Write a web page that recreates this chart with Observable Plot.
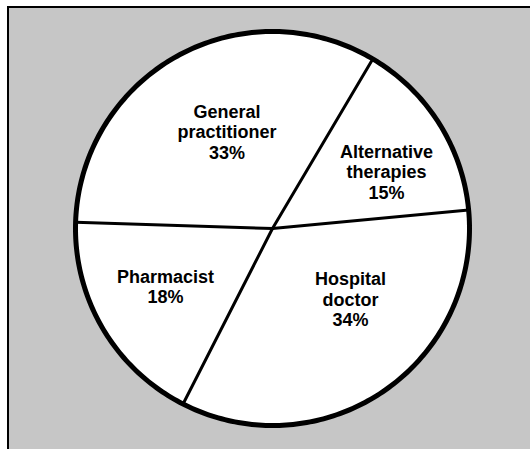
<!DOCTYPE html>
<html><head><meta charset="utf-8">
<script src="https://cdn.jsdelivr.net/npm/d3@7"></script>
<script src="https://cdn.jsdelivr.net/npm/@observablehq/plot@0.6"></script>
<style>
html,body{margin:0;padding:0;background:#fff}
#wrap{position:relative;width:530px;height:449px;overflow:hidden}
#panel{position:absolute;left:7px;top:6px;right:-2px;bottom:-2px;background:#c6c6c6;border-left:2px solid #000;border-top:2px solid #000}
#chart{position:absolute;left:0;top:0}
</style>
</head><body><div id="wrap"><div id="panel"></div><div id="chart"></div></div>
<script>
// ---- data ----
const categories = ["Alternative therapies", "Hospital doctor", "Pharmacist", "General practitioner"];
const labelLines = ["Alternative\ntherapies", "Hospital\ndoctor", "Pharmacist", "General\npractitioner"];
const shares = [15, 34, 18, 33];

// ---- layout (pixels / degrees clockwise from north) ----
const W = 530, H = 449, ML = 9, MT = 8;
const CX = 272, CY = 228, R = 197;
const START_ANGLE = 30.6;
const labelPlacement = {
  "Alternative therapies": {angle: 63.6, radius: 0.646},
  "Hospital doctor": {angle: 132.3, radius: 0.535},
  "Pharmacist": {angle: 241.5, radius: 0.618},
  "General practitioner": {angle: 334.85, radius: 0.543}
};

const total = d3.sum(shares);
let acc = START_ANGLE;
const slices = categories.map((c, i) => {
  const a0 = acc, a1 = acc + shares[i] / total * 360;
  acc = a1;
  return {category: c, a0, a1, value: shares[i], text: labelLines[i] + "\n" + shares[i] + "%"};
});
const rad = d => d * Math.PI / 180;
const pt = (a, r) => ({x: r * Math.sin(rad(a)), y: r * Math.cos(rad(a))});
const rim = d3.range(0, 361).map(a => pt(a, 1));

const chart = Plot.plot({
  width: W, height: H,
  marginLeft: ML, marginTop: MT, marginRight: 0, marginBottom: 0,
  x: {domain: [(ML - CX) / R, (W - CX) / R], axis: null},
  y: {domain: [(CY - H) / R, (CY - MT) / R], axis: null},
  style: {background: "transparent", overflow: "visible"},
  marks: [
    Plot.line(rim, {x: "x", y: "y", fill: "white", stroke: "none"}),
    Plot.link(slices, {x1: 0, y1: 0, x2: d => pt(d.a0, 1).x, y2: d => pt(d.a0, 1).y, stroke: "black", strokeWidth: 3, strokeLinecap: "round"}),
    Plot.line(rim, {x: "x", y: "y", stroke: "black", strokeWidth: 5}),
    Plot.text(slices, {
      x: d => pt(labelPlacement[d.category].angle, labelPlacement[d.category].radius).x,
      y: d => pt(labelPlacement[d.category].angle, labelPlacement[d.category].radius).y,
      text: "text", fontSize: 18, fontWeight: "bold",
      fontFamily: "'Liberation Sans', Arial, Helvetica, sans-serif",
      lineHeight: 20.5 / 18, textAnchor: "middle", lineAnchor: "middle", fill: "black"
    })
  ]
});
document.getElementById("chart").append(chart);
</script></body></html>
